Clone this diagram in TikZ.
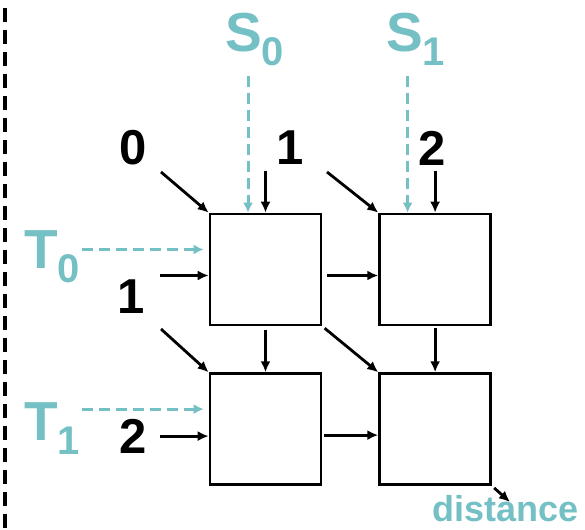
\documentclass[tikz,border=0pt]{standalone}
\usepackage{fontspec}
\setmainfont{Liberation Sans}
\usetikzlibrary{positioning,arrows.meta,calc}
\definecolor{SysTeal}{RGB}{116,192,196}
\tikzset{gridcell/.style={draw=black, line width=2.6pt, minimum width=111pt, minimum height=111pt, inner sep=0pt}, gridarrow/.style={-{Latex[length=11pt,width=10pt]}, line width=2.8pt, draw=black}, feedarrow/.style={-{Latex[length=10pt,width=10pt]}, line width=3pt, draw=SysTeal, dash pattern=on 11pt off 6pt}, seqlabel/.style={font=\fontsize{49}{49}\selectfont\bfseries, inner sep=0pt}, feedlabel/.style={text=SysTeal, font=\fontsize{55}{55}\selectfont\bfseries, inner sep=0pt, anchor=base west}}
\newcommand{\feedsub}[1]{\raisebox{-14pt}{\fontsize{40}{40}\selectfont #1}}

\begin{document}
\begin{tikzpicture}[x=1pt, y=-1pt]
\useasboundingbox (0,0) rectangle (585,529);
\draw[line width=4.5pt, dash pattern=on 14pt off 8pt] (5,8) -- (5,529);
\node[gridcell] (cellA) at (265.5,269.5) {};
\node[gridcell, right=56pt of cellA] (cellB) {};
\node[gridcell, below=46pt of cellA] (cellC) {};
\node[gridcell, right=56pt of cellC] (cellD) {};
\node[seqlabel] (zero) at (133,148) {0};
\node[seqlabel] (oneT) at (290,148) {1};
\node[seqlabel] (twoT) at (432,148) {2};
\node[seqlabel] (oneL) at (131,297) {1};
\node[seqlabel] (twoL) at (133,436) {2};
\node[feedlabel] (S0) at (225,52) {S\feedsub{0}};
\node[feedlabel] (S1) at (386,52) {S\feedsub{1}};
\node[feedlabel] (T0) at (24,268) {T\feedsub{0}};
\node[feedlabel] (T1) at (24,440) {T\feedsub{1}};
\node[feedlabel, font=\fontsize{36}{36}\selectfont\bfseries] (dist) at (432,521) {distance};
\coordinate (zeroTail) at (161,172);
\coordinate (oneTail) at (327,172);
\coordinate (oneLTail) at (161,329);
\coordinate (distHead) at (510,502);
% inputs into the first row
\draw[gridarrow] (zeroTail) -- (cellA.north west);
\draw[gridarrow] ([yshift=42pt]cellA.north) -- (cellA.north);
\draw[gridarrow] ([xshift=-49pt,yshift=-6pt]cellA.west) -- ([yshift=-6pt]cellA.west);
\draw[gridarrow] (oneTail) -- (cellB.north west);
\draw[gridarrow] ([yshift=42pt]cellB.north) -- (cellB.north);
% inputs into the second row
\draw[gridarrow] (oneLTail) -- (cellC.north west);
\draw[gridarrow] ([xshift=-49pt,yshift=-7pt]cellC.west) -- ([yshift=-7pt]cellC.west);
% between cells
\draw[gridarrow, shorten <=5pt] ([yshift=-6pt]cellA.east) -- ([yshift=-6pt]cellB.west);
\draw[gridarrow, shorten <=4pt] (cellA.south) -- (cellC.north);
\draw[gridarrow, shorten <=3pt] (cellA.south east) -- (cellD.north west);
\draw[gridarrow, shorten <=2pt] (cellB.south) -- (cellD.north);
\draw[gridarrow, shorten <=2pt] ([yshift=-6pt]cellC.east) -- ([yshift=-6pt]cellD.west);
\draw[gridarrow, shorten <=3pt] (cellD.south east) -- (distHead);
% dashed feeds
\draw[feedarrow] ([xshift=-17.5pt,yshift=137pt]cellA.north) -- ([xshift=-17.5pt]cellA.north);
\draw[feedarrow] ([xshift=-27.5pt,yshift=137pt]cellB.north) -- ([xshift=-27.5pt]cellB.north);
\draw[feedarrow] ([xshift=-127pt,yshift=20pt]cellA.west) -- ([xshift=-5pt,yshift=20pt]cellA.west);
\draw[feedarrow] ([xshift=-127pt,yshift=20pt]cellC.west) -- ([xshift=-5pt,yshift=20pt]cellC.west);
\end{tikzpicture}
\end{document}
